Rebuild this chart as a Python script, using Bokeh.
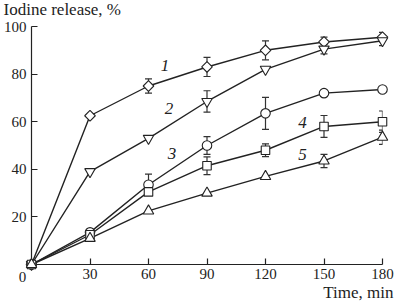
import numpy as np
from bokeh.plotting import figure
from bokeh.models import ColumnDataSource, Whisker, TeeHead, Range1d, FixedTicker
from bokeh.core.properties import value
from bokeh.embed import file_html
from bokeh.resources import INLINE

# ---- data ----
time = [0, 30, 60, 90, 120, 150, 180]
s1 = [0, 62.5, 75, 83, 90, 93.5, 95.5]
s2 = [0, 39, 53, 68.5, 82, 90.5, 94]
s3 = [0, 13.5, 33.5, 50, 63.5, 72, 73.5]
s4 = [0, 12.5, 30.5, 41.5, 48, 58, 60]
s5 = [0, 11, 22.5, 30, 37, 43.5, 53.5]
e1 = [0, 0, 3, 4, 4, 2, 2]
e2 = [0, 0, 0, 4.5, 0, 2, 2]
e3 = [0, 0, 4.5, 3.7, 6.7, 0, 0]
e4 = [0, 0, 0, 3.7, 2.7, 4.6, 4.5]
e5 = [0, 0, 0, 0, 0, 2.8, 3]
series_labels = ["1", "2", "3", "4", "5"]
label_x = [68.5, 70.5, 72, 139, 139]
label_y = [83.6, 65.4, 46.5, 59.8, 46.2]
x_ticks = [0, 30, 60, 90, 120, 150, 180]
y_ticks = [20, 40, 60, 80, 100]
y_title = "Iodine release, %"
x_title = "Time, min"

FONT = "Liberation Serif, Times New Roman, serif"

p = figure(width=395, height=304, output_backend="svg", toolbar_location=None,
           x_range=Range1d(0, 180), y_range=Range1d(0, 100),
           min_border_left=29, min_border_right=13, min_border_top=26, min_border_bottom=40)
p.background_fill_color = "white"
p.border_fill_color = "white"
p.outline_line_color = None
p.xgrid.visible = False
p.ygrid.visible = False

for ax in (p.xaxis, p.yaxis):
    ax.major_tick_in = 6
    ax.major_tick_out = 0
    ax.minor_tick_line_color = None
    ax.axis_line_width = 1.2
    ax.major_tick_line_width = 1.2
    ax.axis_line_color = "#222222"
    ax.major_tick_line_color = "#222222"
    ax.major_label_text_font = FONT
    ax.major_label_text_font_size = "15px"
    ax.major_label_text_color = "#222222"

p.xaxis.ticker = FixedTicker(ticks=x_ticks)
p.xaxis.major_label_overrides = {0: ""}
p.xaxis.major_label_standoff = 4
p.yaxis.ticker = FixedTicker(ticks=y_ticks)
p.yaxis.major_label_standoff = 5

series = [(s1, e1, "diamond"), (s2, e2, "inverted_triangle"), (s3, e3, "circle"),
          (s4, e4, "square"), (s5, e5, "triangle")]

# lines first
for ys, es, m in series:
    r = p.line(time, ys, line_color="#222222", line_width=1.4)
    r.level = "overlay"

# error bars
for ys, es, m in series:
    xs = [t for t, e in zip(time, es) if e > 0]
    lo = [y - e for y, e in zip(ys, es) if e > 0]
    hi = [y + e for y, e in zip(ys, es) if e > 0]
    src = ColumnDataSource(dict(x=xs, lo=lo, hi=hi))
    w = Whisker(source=src, base="x", lower="lo", upper="hi", line_color="#333333",
                line_width=1.2,
                upper_head=TeeHead(size=7, line_color="#333333", line_width=1.2),
                lower_head=TeeHead(size=7, line_color="#333333", line_width=1.2))
    p.add_layout(w)

# markers
for ys, es, m in series:
    kw = dict(fill_color="white", line_color="#222222", line_width=1.1)
    if m == "diamond":
        r = p.scatter(time, ys, marker="square", angle=np.pi / 4, size=7.5, **kw)
    elif m == "circle":
        r = p.scatter(time, ys, marker="circle", size=9.5, **kw)
    elif m == "square":
        r = p.scatter(time, ys, marker="square", size=8.5, **kw)
    else:
        r = p.scatter(time, ys, marker=m, size=10.5, **kw)
    r.level = "overlay"

# series numbers
r = p.text(label_x, label_y, text=series_labels, text_font=value(FONT),
           text_font_style="italic", text_font_size="17px", text_align="center",
           text_baseline="middle", text_color="#222222")
r.level = "overlay"

# axis titles and origin label (unclipped text glyphs)
r = p.text([0], [100], text=[y_title], x_offset=-28, y_offset=-17,
           text_font=value(FONT), text_font_size="17px", text_align="left",
           text_baseline="middle", text_color="#222222")
r.level = "overlay"
r = p.text([180], [0], text=[x_title], x_offset=11, y_offset=28,
           text_font=value(FONT), text_font_size="17px", text_align="right",
           text_baseline="middle", text_color="#222222")
r.level = "overlay"
r = p.text([0], [0], text=["0"], x_offset=-9, y_offset=12,
           text_font=value(FONT), text_font_size="15px", text_align="center",
           text_baseline="middle", text_color="#222222")
r.level = "overlay"

open("out.html", "w").write(file_html(p, INLINE))
